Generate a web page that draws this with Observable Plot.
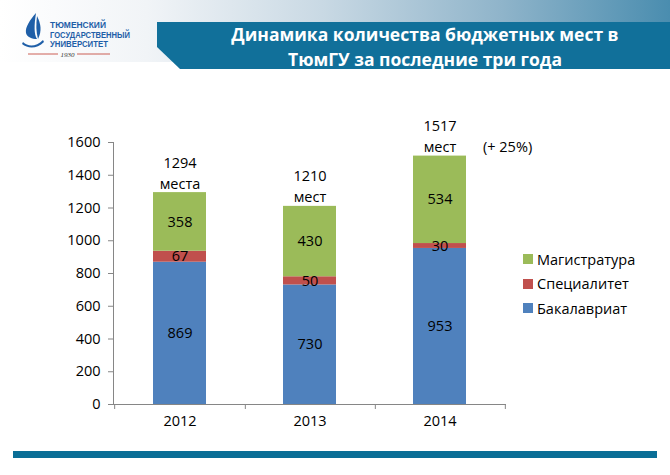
<!DOCTYPE html>
<html>
<head>
<meta charset="utf-8">
<script src="https://cdn.jsdelivr.net/npm/d3@7"></script>
<script src="https://cdn.jsdelivr.net/npm/@observablehq/plot@0.6"></script>
<style>
  html, body { margin: 0; padding: 0; background: #fff; }
  #page { position: relative; width: 670px; height: 475px; overflow: hidden; background: #fff; font-family: "Open Sans", sans-serif; }
  #topgrad { position: absolute; left: 0; top: 0; width: 670px; height: 62px;
    background: linear-gradient(90deg, #ffffff 0%, #f1f4f7 22%, #c9d9e4 48%, #8fb4ca 75%, #4a8daf 100%); }
  #banner { position: absolute; left: 157px; top: 22px; width: 513px; height: 47px; background: #11709a;
    clip-path: polygon(0 0, 100% 0, 100% 100%, 23px 100%, 0 25px); }
  #title { position: absolute; left: 180px; top: 22px; width: 490px; text-align: center; color: #fff;
    font-weight: 700; font-size: 17.5px; line-height: 25px; }
  #logo { position: absolute; left: 0; top: 0; }
  #chart { position: absolute; left: 0; top: 100px; }
  #legend { position: absolute; left: 523px; top: 247px; font-size: 14.5px; color: #000; }
  #legend .row { height: 24.5px; display: flex; align-items: center; }
  #legend .sw { width: 10px; height: 10px; margin-right: 4px; }
  #bottombar { position: absolute; left: 13px; top: 451px; width: 644px; height: 6.5px; background: #0a6e96; }
</style>
</head>
<body>
<div id="page">
  <div id="topgrad"></div>
  <div id="banner"></div>
  <div id="title">Динамика количества бюджетных мест в<br>ТюмГУ за последние три года</div>
  <svg id="logo" width="150" height="66">
    <path d="M36,13 C30,20 25,27 26,33 C27,37 32,39 37,39 C34,34 34,26 36,13 Z" fill="#1f5fa8"/>
    <path d="M37,16 C41,24 42,31 38,39 C36,32 36,24 37,16 Z" fill="#1f5fa8"/>
    <path d="M23,42 C28,47 36,47 43,40 L44,42 C37,49 28,49 22,44 Z" fill="#1f5fa8"/>
    <text x="50" y="28" font-family="Liberation Sans Narrow, Liberation Sans, sans-serif" font-weight="700" font-size="8.5" fill="#1f5fa8" textLength="56" lengthAdjust="spacingAndGlyphs">ТЮМЕНСКИЙ</text>
    <text x="50" y="37.5" font-family="Liberation Sans Narrow, Liberation Sans, sans-serif" font-weight="700" font-size="8.5" fill="#1f5fa8" textLength="80" lengthAdjust="spacingAndGlyphs">ГОСУДАРСТВЕННЫЙ</text>
    <text x="50" y="47" font-family="Liberation Sans Narrow, Liberation Sans, sans-serif" font-weight="700" font-size="8.5" fill="#1f5fa8" textLength="58" lengthAdjust="spacingAndGlyphs">УНИВЕРСИТЕТ</text>
    <line x1="28" y1="54" x2="58" y2="54" stroke="#c0392b" stroke-width="0.8"/>
    <line x1="77" y1="54" x2="110" y2="54" stroke="#c0392b" stroke-width="0.8"/>
    <text x="67.5" y="56.5" text-anchor="middle" font-family="Liberation Serif, serif" font-style="italic" font-size="7" fill="#333">1930</text>
  </svg>
  <div id="chart"></div>
  <div id="legend"></div>
  <div id="bottombar"></div>
</div>
<script>
const years = ["2012", "2013", "2014"];
const seriesNames = ["Бакалавриат", "Специалитет", "Магистратура"];
const bachelor = [869, 730, 953];
const specialist = [67, 50, 30];
const master = [358, 430, 534];
const totals = [1294, 1210, 1517];
const totalWords = ["места", "мест", "мест"];
const growthLabel = "(+ 25%)";
const yTicks = [0, 200, 400, 600, 800, 1000, 1200, 1400, 1600];
const colors = ["#4f81bd", "#c0504d", "#9bbb59"];

const seriesValues = [bachelor, specialist, master];
const data = years.flatMap((year, i) =>
  seriesNames.map((s, k) => ({ year, series: s, value: seriesValues[k][i] }))
);
const totalData = years.map((year, i) => ({ year, total: totals[i], label: totals[i] + "\n" + totalWords[i] }));
const growthData = [{ year: years[2], total: totals[2], label: growthLabel }];

const halfStep = 392 / 3 / 2;
const fs = 14.5;

const chart = Plot.plot({
  width: 670,
  height: 340,
  marginTop: 42,
  marginBottom: 36,
  marginLeft: 113,
  marginRight: 165,
  style: { fontFamily: "Open Sans, sans-serif", fontSize: fs + "px", color: "#000", background: "transparent" },
  x: { domain: years, paddingInner: 0.594, paddingOuter: 0.297, label: null },
  y: { domain: [0, 1600], label: null },
  color: { domain: seriesNames, range: colors },
  marks: [
    Plot.barY(data, Plot.stackY({ x: "year", y: "value", fill: "series", z: "series", order: seriesNames })),
    Plot.text(data, Plot.stackY({ x: "year", y: "value", z: "series", text: "value", order: seriesNames, fill: "#000", fontSize: fs })),
    Plot.text(totalData, { x: "year", y: "total", text: "label", lineAnchor: "bottom", dy: -4, lineHeight: 1.45, fill: "#000", fontSize: fs }),
    Plot.text(growthData, { x: "year", y: "total", text: "label", lineAnchor: "bottom", textAnchor: "start", dx: 43, dy: -4, fill: "#000", fontSize: fs }),
    Plot.axisY({ ticks: yTicks, tickFormat: d => String(d), tickSize: 5, tickPadding: 8, stroke: "#868686", fill: "#000", fontSize: fs, label: null }),
    Plot.axisX({ tickSize: 0, tickPadding: 11, fill: "#000", fontSize: fs, label: null }),
    Plot.ruleX([years[0]], { x: d => d, y1: 0, y2: 0, insetBottom: -5, dx: -halfStep, stroke: "#868686" }),
    Plot.ruleX(years, { x: d => d, y1: 0, y2: 0, insetBottom: -5, dx: halfStep, stroke: "#868686" }),
    Plot.frame({ anchor: "left", stroke: "#868686" }),
    Plot.frame({ anchor: "bottom", stroke: "#868686" })
  ]
});
document.getElementById("chart").appendChild(chart);

const legend = document.getElementById("legend");
[2, 1, 0].forEach(k => {
  const row = document.createElement("div");
  row.className = "row";
  const sw = document.createElement("div");
  sw.className = "sw";
  sw.style.background = colors[k];
  const t = document.createElement("span");
  t.textContent = seriesNames[k];
  row.appendChild(sw);
  row.appendChild(t);
  legend.appendChild(row);
});
</script>
</body>
</html>
